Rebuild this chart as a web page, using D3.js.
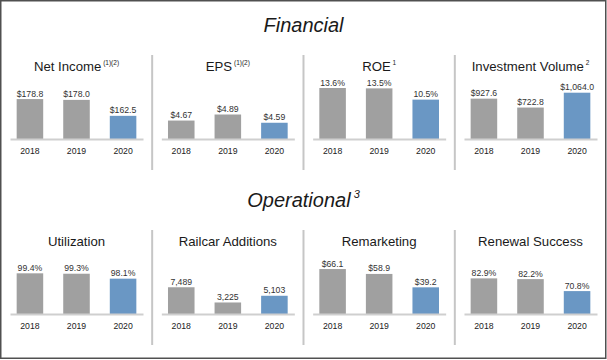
<!DOCTYPE html>
<html>
<head>
<meta charset="utf-8">
<script src="https://cdn.jsdelivr.net/npm/d3@7"></script>
<style>
  html, body { margin: 0; padding: 0; background: #fff; }
  svg { display: block; font-family: "Liberation Sans", Arial, Helvetica, sans-serif; }
</style>
</head>
<body>
<svg id="chart" width="607" height="360"></svg>
<script>
// ---- data ----
const categories = ["2018", "2019", "2020"];
const sectionTitles = ["Financial", "Operational"];
const sectionNotes = ["", "3"];
const panelTitles = ["Net Income", "EPS", "ROE", "Investment Volume",
                     "Utilization", "Railcar Additions", "Remarketing", "Renewal Success"];
const panelNotes = ["(1)(2)", "(1)(2)", "1", "2", "", "", "", ""];

const netIncome        = [178.8, 178.0, 162.5];
const eps              = [4.67, 4.89, 4.59];
const roe              = [13.6, 13.5, 10.5];
const investmentVolume = [927.6, 722.8, 1064.0];
const utilization      = [99.4, 99.3, 98.1];
const railcarAdditions = [7489, 3225, 5103];
const remarketing      = [66.1, 58.9, 39.2];
const renewalSuccess   = [82.9, 82.2, 70.8];

const panelValues = [netIncome, eps, roe, investmentVolume,
                     utilization, railcarAdditions, remarketing, renewalSuccess];
// value-axis domain of each small chart (several use a truncated baseline)
const panelDomains = [[140, 198.3], [4.0, 6.18], [0, 16], [0, 1379],
                      [89.5, 104.1], [0, 16800], [0, 88.2], [49, 106.1]];
const valueFormats = ["$.1f", "$.2f", ".1f", "$,.1f", ".1f", ",d", "$.1f", ".1f"];
const valueSuffixes = ["", "", "%", "", "%", "", "", "%"];

// ---- layout ----
const W = 607, H = 360;
const svg = d3.select("#chart");
const rowOffset = 175;
const panelW = 133, panelStep = 151.33, panelLeft = 10;
const baseY = 139, plotH = 60;
const grey = "#a0a0a0", blue = "#6a97c4";

// outer frame
svg.append("rect")
  .attr("x", 0.75).attr("y", 0.75)
  .attr("width", 605).attr("height", 357.5)
  .attr("fill", "none").attr("stroke", "#505050").attr("stroke-width", 1.5);

sectionTitles.forEach((t, r) => {
  const txt = svg.append("text")
    .attr("x", W / 2).attr("y", 31.7 + r * rowOffset)
    .attr("text-anchor", "middle")
    .attr("font-size", 20).attr("font-style", "italic")
    .attr("fill", "#1a1a1a");
  txt.append("tspan").text(t);
  if (sectionNotes[r]) {
    txt.append("tspan").text("\u00a0" + sectionNotes[r])
      .attr("font-size", 11).attr("dy", -9);
  }
  // separators
  for (let c = 1; c < 4; c++) {
    const sx = panelLeft + c * panelStep - (panelStep - panelW) / 2;
    svg.append("line")
      .attr("x1", sx).attr("x2", sx)
      .attr("y1", 55 + r * rowOffset).attr("y2", 170 + r * rowOffset)
      .attr("stroke", "#c6c6c6").attr("stroke-width", 2);
  }
});

panelTitles.forEach((title, i) => {
  const r = Math.floor(i / 4), c = i % 4;
  const x0 = panelLeft + c * panelStep;
  const by = baseY + r * rowOffset;
  const g = svg.append("g");

  const x = d3.scaleBand().domain(categories)
    .range([x0, x0 + panelW]).paddingInner(0.43).paddingOuter(0.143);
  const y = d3.scaleLinear().domain(panelDomains[i]).range([by, by - plotH]);

  // title
  const tt = g.append("text")
    .attr("x", x0 + panelW / 2).attr("y", 70.7 + r * rowOffset)
    .attr("text-anchor", "middle").attr("font-size", 13.2).attr("fill", "#1a1a1a");
  tt.append("tspan").text(title);
  if (panelNotes[i]) {
    tt.append("tspan").text("\u00a0" + panelNotes[i])
      .attr("font-size", 6.5).attr("dy", -5.5);
  }

  const vals = panelValues[i];
  const fmt = d3.format(valueFormats[i]);

  g.selectAll("rect.bar").data(vals).join("rect")
    .attr("class", "bar")
    .attr("x", (d, j) => x(categories[j]))
    .attr("width", x.bandwidth())
    .attr("y", d => y(d))
    .attr("height", d => y(panelDomains[i][0]) - y(d))
    .attr("fill", (d, j) => j === vals.length - 1 ? blue : grey);

  g.selectAll("text.val").data(vals).join("text")
    .attr("class", "val")
    .attr("x", (d, j) => x(categories[j]) + x.bandwidth() / 2)
    .attr("y", d => y(d) - 2.5)
    .attr("text-anchor", "middle").attr("font-size", 8.7).attr("fill", "#333")
    .text(d => fmt(d) + valueSuffixes[i]);

  const axis = g.append("g")
    .attr("transform", `translate(0,${by})`)
    .call(d3.axisBottom(x).tickSize(0).tickSizeOuter(0).tickPadding(9));
  axis.select(".domain").attr("stroke", "#cfcfcf").attr("stroke-width", 1.8);
  axis.selectAll("text")
    .attr("font-size", 8.7).attr("fill", "#222")
    .attr("font-family", "Liberation Sans, Arial, sans-serif");
});
</script>
</body>
</html>
